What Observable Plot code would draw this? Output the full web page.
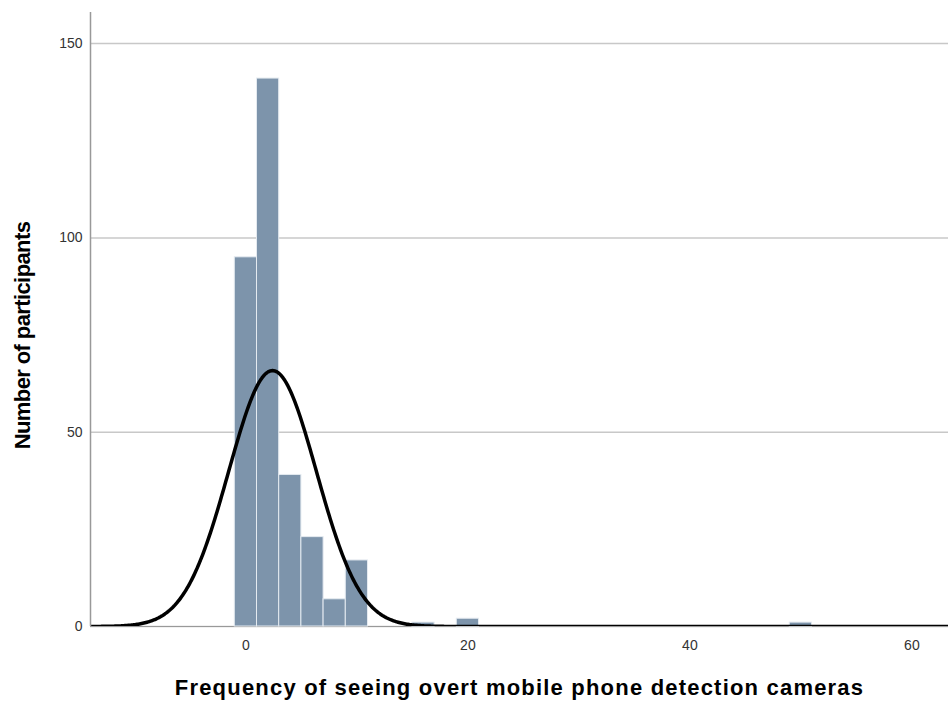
<!DOCTYPE html>
<html><head><meta charset="utf-8">
<script src="https://cdn.jsdelivr.net/npm/d3@7"></script>
<script src="https://cdn.jsdelivr.net/npm/@observablehq/plot@0.6"></script>
<style>
body{margin:0;background:#fff;}
svg{font-family:"Liberation Sans",Arial,sans-serif;}
g[aria-label="x-axis label"] text{font-size:22px;font-weight:bold;fill:#000;letter-spacing:1.2px;}
g[aria-label="text"] text{letter-spacing:-0.6px;}
</style>
</head><body><div id="chart"></div>
<script>
const binStarts = [-1, 1, 3, 5, 7, 9, 15, 19, 49];
const binWidth = 2;
const counts = [95, 141, 39, 23, 7, 17, 1, 2, 1];
const yTicks = [0, 50, 100, 150];
const xTicks = [0, 20, 40, 60];
const fitMean = 2.4;
const fitSD = 3.95;
const xTitle = "Frequency of seeing overt mobile phone detection cameras";
const yTitle = "Number of participants";

const bins = binStarts.map((s, i) => ({x1: s, x2: s + binWidth, y: counts[i]}));
const N = d3.sum(counts);
const xMin = -14, xMax = 63.3;
const curve = d3.range(xMin, xMax + 0.05, 0.1).map(x => ({
  x, y: N * binWidth / (fitSD * Math.sqrt(2 * Math.PI)) * Math.exp(-0.5 * ((x - fitMean) / fitSD) ** 2)
}));

const chart = Plot.plot({
  width: 948, height: 702,
  marginLeft: 90, marginRight: 0, marginTop: 12, marginBottom: 76,
  style: {fontSize: "14px", color: "#333", background: "#fff"},
  x: {domain: [xMin, xMax]},
  y: {domain: [0, 158]},
  marks: [
    Plot.gridY(yTicks, {stroke: "#c8c8c8", strokeOpacity: 1, strokeWidth: 1.5}),
    Plot.ruleY([0], {stroke: "#999"}),
    Plot.rectY(bins, {x1: "x1", x2: "x2", y: "y", fill: "#7d94ab", stroke: "#e4eaf0", strokeWidth: 1}),
    Plot.line(curve, {x: "x", y: "y", stroke: "#000", strokeWidth: 3.5, clip: true}),
    Plot.ruleX([xMin], {stroke: "#999", strokeWidth: 1.5, y1: 0, y2: 158}),
    Plot.axisX(xTicks, {tickSize: 0, tickPadding: 14, fontSize: 14, label: xTitle, labelAnchor: "center", labelArrow: "none", labelOffset: 68}),
    Plot.axisY(yTicks, {tickSize: 0, tickPadding: 8, fontSize: 14, label: null}),
    Plot.text([yTitle], {frameAnchor: "left", textAnchor: "middle", dx: -68, dy: 16, rotate: -90, fontSize: 22, fontWeight: "bold", fill: "#000"})
  ]
});
document.getElementById("chart").appendChild(chart);
</script></body></html>
